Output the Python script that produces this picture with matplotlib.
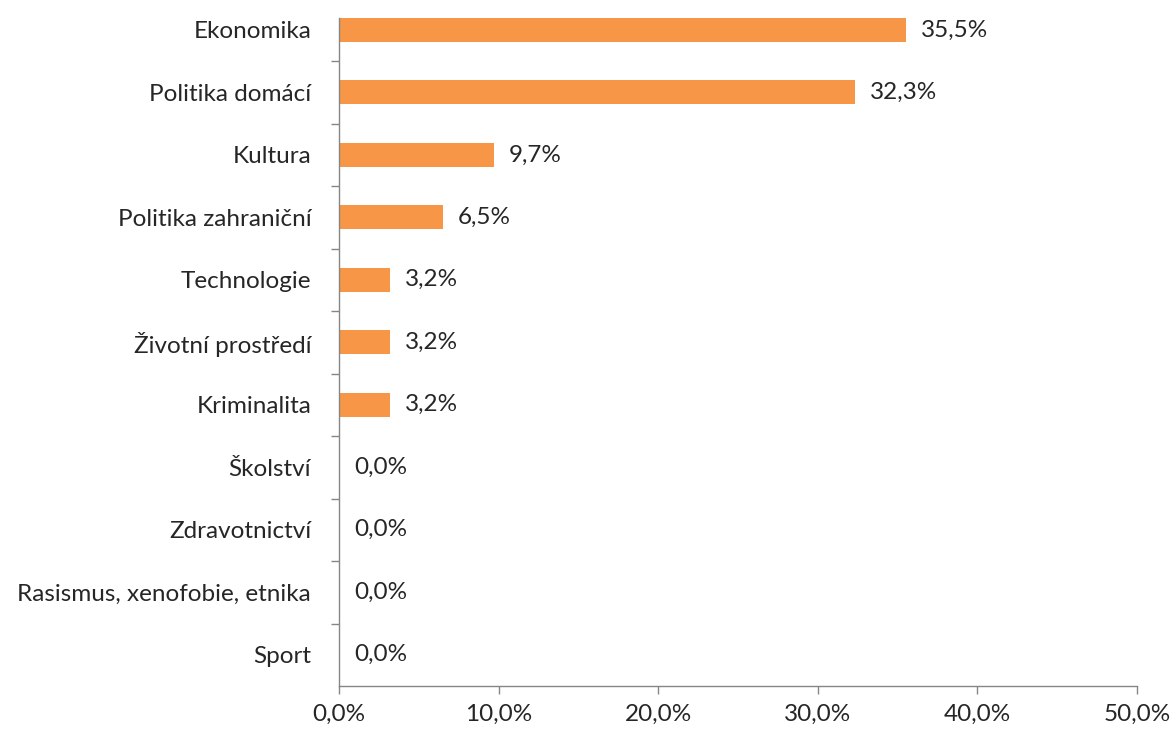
import matplotlib.pyplot as plt
from matplotlib.ticker import FuncFormatter
import numpy as np

categories = ["Ekonomika", "Politika domácí", "Kultura", "Politika zahraniční",
              "Technologie", "Životní prostředí", "Kriminalita", "Školství",
              "Zdravotnictví", "Rasismus, xenofobie, etnika", "Sport"]
values = [35.5, 32.3, 9.7, 6.5, 3.2, 3.2, 3.2, 0.0, 0.0, 0.0, 0.0]
xticks = [0, 10, 20, 30, 40, 50]

plt.rcParams['font.family'] = ['Lato', 'DejaVu Sans']
text_color = '#262626'
axis_color = '#868686'
fs = 17.5

fig = plt.figure(figsize=(11.75, 7.31), dpi=100)
ax = fig.add_axes([339 / 1175, 1 - 686 / 731, (1137 - 339) / 1175, (686 - 18) / 731])

y = np.arange(len(categories))
ax.barh(y, values, height=0.38, color='#F79646', zorder=2)

for yi, v in zip(y, values):
    label = f"{v:.1f}%".replace('.', ',')
    ax.annotate(label, (v, yi), xytext=(11, 0), textcoords='offset points',
                ha='left', va='center', fontsize=fs, color=text_color)

ax.set_xlim(0, 50)
ax.set_ylim(len(categories) - 0.5, -0.19)
ax.set_xticks(xticks)
ax.xaxis.set_major_formatter(FuncFormatter(lambda v, p: f"{v:.1f}%".replace('.', ',')))
ax.set_yticks(y)
ax.set_yticklabels(categories)
ax.set_yticks(np.arange(len(categories) - 1) + 0.5, minor=True)

ax.tick_params(axis='y', which='major', length=0, pad=20, labelsize=fs, labelcolor=text_color)
ax.tick_params(axis='y', which='minor', length=6, width=1, color=axis_color, direction='out')
ax.tick_params(axis='x', length=6, width=1, color=axis_color, pad=7, labelsize=fs, labelcolor=text_color)

for s in ['top', 'right']:
    ax.spines[s].set_visible(False)
for s in ['left', 'bottom']:
    ax.spines[s].set_color(axis_color)
    ax.spines[s].set_linewidth(1)

fig.savefig('out.png', dpi=100)
